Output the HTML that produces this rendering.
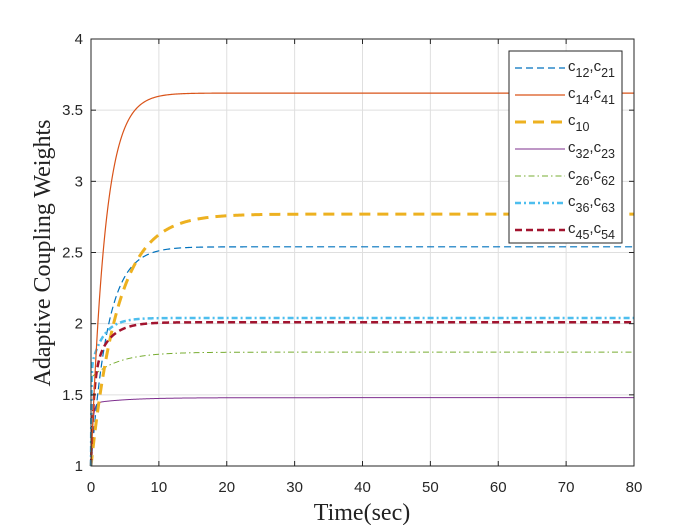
<!DOCTYPE html>
<html><head><meta charset="utf-8"><style>
body{margin:0;background:#fff;width:700px;height:525px;overflow:hidden}
svg{display:block}
text{font-family:"Liberation Sans",sans-serif;font-size:15px;fill:#262626}
.s{font-family:"Liberation Serif",serif;font-size:24px;fill:#222}
</style></head><body>
<svg id="c" width="700" height="525" viewBox="0 0 700 525" xmlns="http://www.w3.org/2000/svg">
<rect x="0" y="0" width="700" height="525" fill="#fff"/>
<rect x="91" y="39" width="543" height="427" fill="#fff"/>
<g id="grid" stroke="#dfdfdf" stroke-width="1"></g>
<g id="series" fill="none"></g>
<rect x="91" y="39" width="543" height="427" fill="none" stroke="#262626" stroke-width="1"/>
<g id="ticks" stroke="#262626" stroke-width="1"></g>
<g id="labels"></g>
<text class="s" x="362" y="520" text-anchor="middle">Time(sec)</text>
<text class="s" transform="translate(50,253) rotate(-90)" text-anchor="middle">Adaptive Coupling Weights</text>
<g id="legend">
<rect x="509" y="51" width="113" height="192" fill="#fff" stroke="#262626" stroke-width="1"/>
</g>
</svg>
<script>
const L=91,R=634,T=39,B=466,NS="http://www.w3.org/2000/svg";
const X=t=>L+t*(R-L)/80, Y=v=>B-(v-1)*(B-T)/3;
function el(p,n,a,txt){const e=document.createElementNS(NS,n);for(const k in a)e.setAttribute(k,a[k]);if(txt!==undefined)e.textContent=txt;document.getElementById(p).appendChild(e);return e;}
for(let t=10;t<80;t+=10)el('grid','line',{x1:X(t),x2:X(t),y1:T,y2:B});
for(let v=1.5;v<4;v+=0.5)el('grid','line',{x1:L,x2:R,y1:Y(v),y2:Y(v)});
for(let t=0;t<=80;t+=10){el('ticks','line',{x1:X(t),x2:X(t),y1:B,y2:B-5});el('ticks','line',{x1:X(t),x2:X(t),y1:T,y2:T+5});el('labels','text',{x:X(t),y:492,'text-anchor':'middle'},String(t));}
for(let v=1;v<=4;v+=0.5){el('ticks','line',{x1:L,x2:L+5,y1:Y(v),y2:Y(v)});el('ticks','line',{x1:R,x2:R-5,y1:Y(v),y2:Y(v)});el('labels','text',{x:83,y:Y(v)+5,'text-anchor':'end'},String(v));}
const E=Math.exp;
const S=[
 {f:t=>1.48-0.44*E(-t/0.25)-0.04*E(-t/5),c:'#7e2f8e',w:1,d:''},
 {f:t=>1.80-0.18*E(-t/4),c:'#77ac30',w:1,d:'6 3 1.5 3',t0:0},
 {f:t=>2.54-1.54*E(-t/2.5),c:'#0072bd',w:1.2,d:'7 4'},
 {f:t=>2.77-1.77*E(-t/4),c:'#edb120',w:3,d:'11 7'},
 {f:t=>2.01-0.4*E(-t/2.2)-0.61*E(-t/0.4),c:'#a2142f',w:2.5,d:'7 4'},
 {f:t=>2.04-0.35*E(-t/1.8)-0.69*E(-t/0.06),c:'#4dbeee',w:2.5,d:'6 3 2 3'},
 {f:t=>3.62-2.62*E(-t/2.1),c:'#d95319',w:1.2,d:''}
];
for(const s of S){let p='';for(let i=0;i<=800;i++){const t=i<200?i*0.05:10+(i-200)*70/600;p+=(i?'L':'M')+X(t).toFixed(2)+' '+Y(s.f(t)).toFixed(2);}
 const a={d:p,stroke:s.c,'stroke-width':s.w};if(s.d)a['stroke-dasharray']=s.d;el('series','path',a);}
const LG=[['#0072bd',1.2,'7 4','12','21'],['#d95319',1.2,'','14','41'],['#edb120',3,'11 7','10',null],['#7e2f8e',1,'','32','23'],['#77ac30',1,'6 3 1.5 3','26','62'],['#4dbeee',2.5,'6 3 2 3','36','63'],['#a2142f',2.5,'7 4','45','54']];
LG.forEach((g,i)=>{const y=68+i*27;const a={x1:515,x2:565,y1:y,y2:y,stroke:g[0],'stroke-width':g[1]};if(g[2])a['stroke-dasharray']=g[2];el('legend','line',a);
 const tx=el('legend','text',{x:568,y:y+3,'font-size':16});tx.innerHTML='c<tspan dy="6" font-size="12.5">'+g[3]+'</tspan>'+(g[4]?'<tspan dy="-6">,c</tspan><tspan dy="6" font-size="12.5">'+g[4]+'</tspan>':'');});
</script>
</body></html>
